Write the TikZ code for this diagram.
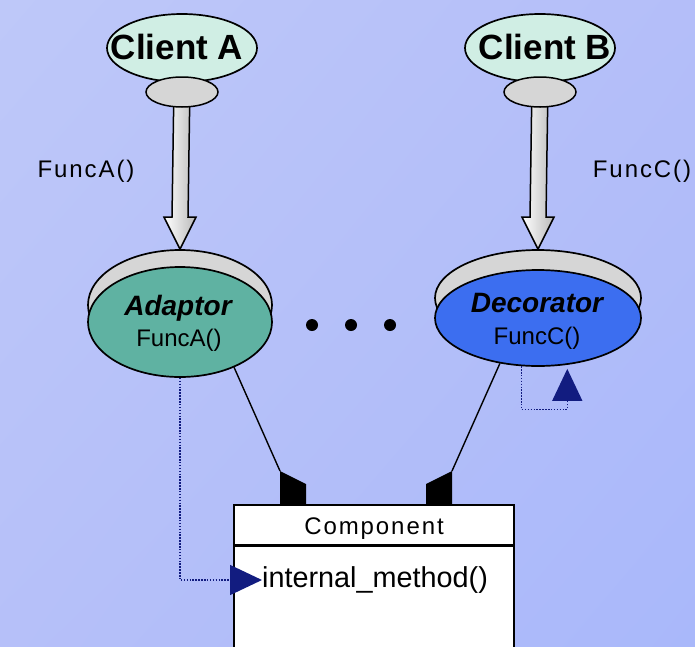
\documentclass[tikz,border=0pt]{standalone}
\usepackage{fontspec}
\setmainfont{Liberation Sans}
\newfontfamily\widefont[LetterSpace=8]{Liberation Sans}
\usetikzlibrary{shapes.geometric,arrows.meta,calc,shadings}
\definecolor{bgtl}{RGB}{190,200,249}
\definecolor{bgtr}{RGB}{180,190,249}
\definecolor{bgbl}{RGB}{182,192,249}
\definecolor{bgbr}{RGB}{169,184,250}
\definecolor{clientfill}{RGB}{208,238,228}
\definecolor{capgrey}{RGB}{214,214,214}
\definecolor{adaptorfill}{RGB}{95,178,162}
\definecolor{decofill}{RGB}{60,110,240}
\definecolor{navy}{RGB}{18,28,128}
\begin{document}
\begin{tikzpicture}[x=1pt,y=-1pt,
  client/.style={ellipse,draw=black,line width=1.7pt,fill=clientfill,inner sep=0pt,
    minimum width=150pt,minimum height=68pt},
  knob/.style={ellipse,draw=black,line width=1.5pt,fill=capgrey,inner sep=0pt,
    minimum width=72pt,minimum height=30pt},
  lidshape/.style={ellipse,draw=black,line width=1.7pt,fill=capgrey,inner sep=0pt},
  body/.style={ellipse,draw=black,line width=1.7pt,inner sep=0pt},
  clienttext/.style={inner sep=0pt,anchor=base,font=\bfseries\fontsize{35}{38}\selectfont},
  nametext/.style={inner sep=0pt,anchor=base,font=\bfseries\itshape\fontsize{28}{30}\selectfont},
  functext/.style={inner sep=0pt,anchor=base,font=\fontsize{24}{26}\selectfont},
  calltext/.style={inner sep=0pt,anchor=base,font=\widefont\fontsize{24}{26}\selectfont},
  bigarrow/.style={draw=black,line width=1.5pt,left color=white,middle color=white,right color=gray!55},
  link/.style={draw=black,line width=1.4pt},
  usage/.style={draw=navy,line width=1.4pt,dash pattern=on 1.5pt off 1.4pt},
  usagetip/.style={-{Triangle[length=32pt,width=30pt,fill=navy,color=navy]}},
  dotnode/.style={circle,fill=black,inner sep=0pt,minimum size=12pt},
  classbox/.style={draw=black,line width=1.6pt,fill=white,inner sep=0pt,minimum width=280pt}
]
\useasboundingbox (0,0) rectangle (695,646);
\shade[upper left=bgtl,upper right=bgtr,lower left=bgbl,lower right=bgbr]
  (0,0) rectangle (695,646);

% the two wrappers: grey lid behind a coloured body
\node[lidshape,minimum width=184pt,minimum height=110pt] (lidA) at (180,305) {};
\node[body,fill=adaptorfill,minimum width=184pt,minimum height=110pt] (adaptor) at (180,322) {};
\node[nametext] (adaptorname) at (178,315) {Adaptor};
\node[functext] (adaptorfunc) at (179,346) {FuncA()};

\node[lidshape,minimum width=206pt,minimum height=96pt] (lidB) at (538,298) {};
\node[body,fill=decofill,minimum width=206pt,minimum height=96pt] (deco) at (538,318) {};
\node[nametext] (deconame) at (537,312) {Decorator};
\node[functext] (decofunc) at (537,344) {FuncC()};

% clients
\node[client] (clientA) at (182,48) {};
\node[clienttext] (clientAtext) at (177,59) {Client A};
\node[client] (clientB) at (540,48) {};
\node[clienttext] (clientBtext) at (545,59) {Client B};

% call arrows
\shadedraw[bigarrow]
  ($(clientA.south)+(-8,0)$) -- ($(lidA.north)+(-8,-32)$) -- ($(lidA.north)+(-16,-32)$)
  -- (lidA.north) -- ($(lidA.north)+(16,-32)$) -- ($(lidA.north)+(8,-32)$)
  -- ($(clientA.south)+(8,0)$) -- cycle;
\shadedraw[bigarrow]
  ($(clientB.south)+(-8,0)$) -- ($(lidB.north)+(-8,-32)$) -- ($(lidB.north)+(-16,-32)$)
  -- (lidB.north) -- ($(lidB.north)+(16,-32)$) -- ($(lidB.north)+(8,-32)$)
  -- ($(clientB.south)+(8,0)$) -- cycle;
\node[knob] (knobA) at (182,92) {};
\node[knob] (knobB) at (540,92) {};

\node[calltext] (callA) at (86,177) {FuncA()};
\node[calltext] (callB) at (642,177) {FuncC()};

% ellipsis between the wrappers
\node[dotnode] (dot1) at (312,325) {};
\node[dotnode] (dot2) at (351,325) {};
\node[dotnode] (dot3) at (390,325) {};

% links to the wrapped component
\coordinate (tipL) at (280,471);
\coordinate (tipR) at (452,471);
\draw[link] (adaptor.-40) -- (tipL);
\draw[link] (deco.-130) -- (tipR);
\fill[black] (tipL) -- ++(26,13) -- ++(0,21) -- ++(-26,0) -- cycle;
\fill[black] (tipR) -- ++(0,34) -- ++(-26,0) -- ++(0,-21) -- cycle;

% component class
\node[classbox,minimum height=40pt] (comphead) at (374,525) {};
\node[classbox,minimum height=130pt,anchor=north] (compbody) at (comphead.south) {};
\node[calltext,anchor=center] (compname) at (374,529) {Component};
\node[inner sep=0pt,anchor=west,font=\fontsize{28.8}{30}\selectfont] (meth) at (262,580) {internal\_method()};

% delegation calls
\draw[usage,usagetip] (adaptor.south) |- (meth.west);
\draw[usage,usagetip] (deco.-109) -- ++(0,43) -| ([yshift=-4pt]deco.-58);
\end{tikzpicture}
\end{document}
